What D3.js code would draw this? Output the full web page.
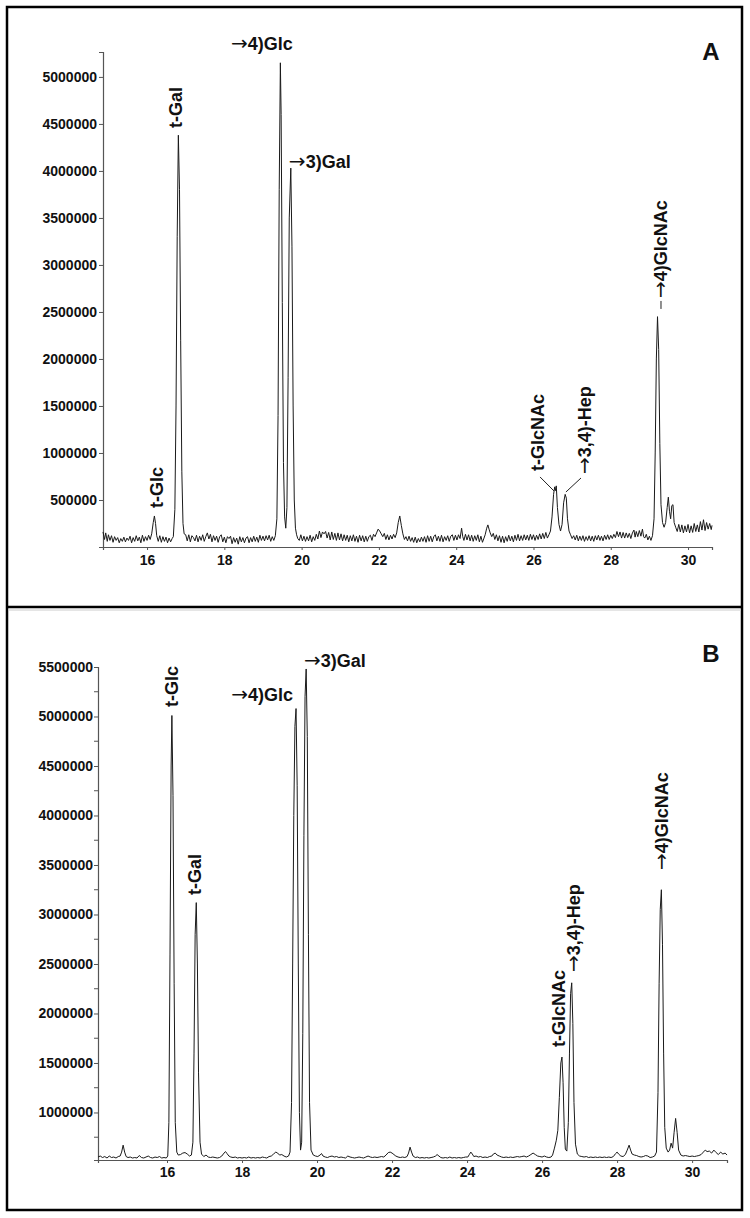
<html>
<head>
<meta http-equiv="Content-Type" content="text/html; charset=UTF-8" />
<title>GC-MS chromatograms A / B</title>
<script src="https://d3js.org/d3.v7.min.js"></script>
<style>
  body { margin: 0; background: #fff; }
  svg text { font-family: "Liberation Sans", Arial, sans-serif; font-weight: bold; fill: #111; }
  svg tspan.arrow { font-family: "DejaVu Sans", sans-serif; font-weight: normal; fill: #111; }
</style>
</head>
<body>
<div id="chart"></div>
<script type="text/javascript">
// retention time (min) / abundance (x1000 counts)
var traceA = [
  [14.86,160],[14.90,80],[14.93,150],[14.97,60],[15.00,130],[15.04,70],[15.08,120],[15.12,50],[15.16,110],[15.20,70],
  [15.24,100],[15.28,45],[15.32,90],[15.36,60],[15.40,105],[15.44,55],[15.48,95],[15.52,70],[15.56,115],[15.60,45],
  [15.64,100],[15.68,60],[15.72,120],[15.76,65],[15.80,105],[15.84,45],[15.88,125],[15.92,60],[15.96,110],[16.00,70],
  [16.04,125],[16.08,80],[16.12,140],[16.16,260],[16.19,330],[16.22,250],[16.25,120],[16.29,60],[16.33,120],[16.37,50],
  [16.41,110],[16.45,60],[16.49,105],[16.53,45],[16.57,95],[16.61,55],[16.65,90],[16.68,110],[16.72,400],[16.75,1500],
  [16.78,3300],[16.81,4380],[16.84,3800],[16.87,2200],[16.90,800],[16.93,250],[16.96,140],[17.00,130],[17.04,65],[17.08,130],
  [17.12,55],[17.16,120],[17.20,100],[17.24,65],[17.28,125],[17.32,55],[17.36,115],[17.40,70],[17.44,130],[17.48,60],
  [17.52,110],[17.56,150],[17.60,85],[17.64,135],[17.68,55],[17.72,120],[17.76,70],[17.80,115],[17.84,50],[17.88,110],
  [17.92,130],[17.96,55],[18.00,105],[18.04,45],[18.08,110],[18.12,90],[18.16,115],[18.20,35],[18.24,100],[18.28,50],
  [18.32,95],[18.36,30],[18.40,110],[18.44,55],[18.48,100],[18.52,45],[18.56,95],[18.60,110],[18.64,45],[18.68,100],
  [18.72,55],[18.76,115],[18.80,60],[18.84,105],[18.88,50],[18.92,125],[18.96,70],[19.00,115],[19.04,65],[19.08,120],
  [19.12,75],[19.16,125],[19.20,60],[19.24,110],[19.28,70],[19.32,120],[19.36,300],[19.39,1400],[19.42,3800],[19.45,5150],
  [19.47,4600],[19.50,2600],[19.53,900],[19.56,320],[19.59,200],[19.62,420],[19.65,1800],[19.68,3500],[19.72,4030],[19.75,3200],
  [19.78,1500],[19.81,500],[19.84,200],[19.87,130],[19.90,90],[19.94,70],[19.98,130],[20.02,65],[20.06,115],[20.10,60],
  [20.14,110],[20.18,65],[20.22,125],[20.26,55],[20.30,110],[20.34,70],[20.38,135],[20.42,85],[20.46,170],[20.50,100],
  [20.54,160],[20.58,140],[20.62,165],[20.66,95],[20.70,155],[20.74,75],[20.78,160],[20.82,80],[20.86,145],[20.90,70],
  [20.94,150],[20.98,75],[21.02,140],[21.06,65],[21.10,130],[21.14,70],[21.18,125],[21.22,55],[21.26,120],[21.30,65],
  [21.34,130],[21.38,60],[21.42,115],[21.46,50],[21.50,125],[21.54,65],[21.58,120],[21.62,55],[21.66,115],[21.70,60],
  [21.74,110],[21.78,125],[21.82,70],[21.86,135],[21.90,110],[21.94,150],[21.98,190],[22.02,170],[22.06,140],[22.10,110],
  [22.14,145],[22.18,80],[22.22,130],[22.26,75],[22.30,125],[22.34,85],[22.38,135],[22.42,100],[22.46,150],[22.50,260],
  [22.54,330],[22.58,230],[22.62,140],[22.66,80],[22.70,110],[22.74,65],[22.78,115],[22.82,60],[22.86,100],[22.90,50],
  [22.94,105],[22.98,45],[23.02,90],[23.06,55],[23.10,105],[23.14,60],[23.18,110],[23.22,50],[23.26,120],[23.30,60],
  [23.34,115],[23.38,55],[23.42,110],[23.46,130],[23.50,65],[23.54,115],[23.58,60],[23.62,125],[23.66,55],[23.70,110],
  [23.74,70],[23.78,120],[23.82,60],[23.86,115],[23.90,130],[23.94,70],[23.98,125],[24.02,75],[24.06,130],[24.10,90],
  [24.14,200],[24.17,110],[24.20,70],[24.24,135],[24.28,75],[24.32,130],[24.36,65],[24.40,125],[24.44,60],[24.48,120],
  [24.52,70],[24.56,130],[24.60,55],[24.64,115],[24.68,50],[24.72,95],[24.75,130],[24.79,200],[24.82,235],[24.85,190],
  [24.88,150],[24.92,110],[24.96,145],[25.00,80],[25.04,130],[25.08,65],[25.12,120],[25.16,50],[25.20,115],[25.24,45],
  [25.28,110],[25.32,60],[25.36,125],[25.40,65],[25.44,115],[25.48,55],[25.52,125],[25.56,70],[25.60,135],[25.64,65],
  [25.68,120],[25.72,70],[25.76,130],[25.80,75],[25.84,125],[25.88,70],[25.92,135],[25.96,80],[26.00,130],[26.04,70],
  [26.08,125],[26.12,80],[26.16,140],[26.20,85],[26.24,145],[26.28,90],[26.32,155],[26.36,95],[26.40,130],[26.44,170],
  [26.48,320],[26.52,560],[26.55,640],[26.57,600],[26.59,650],[26.62,420],[26.66,240],[26.70,170],[26.74,240],[26.78,470],
  [26.82,560],[26.85,520],[26.88,300],[26.92,170],[26.96,130],[27.00,90],[27.04,120],[27.08,75],[27.12,125],[27.16,65],
  [27.20,115],[27.24,70],[27.28,120],[27.32,60],[27.36,110],[27.40,70],[27.44,120],[27.48,65],[27.52,115],[27.56,60],
  [27.60,120],[27.64,75],[27.68,125],[27.72,70],[27.76,115],[27.80,65],[27.84,125],[27.88,80],[27.92,130],[27.96,80],
  [28.00,125],[28.04,90],[28.08,135],[28.12,100],[28.16,165],[28.20,110],[28.24,160],[28.28,95],[28.32,155],[28.36,95],
  [28.40,150],[28.44,100],[28.48,145],[28.52,90],[28.56,150],[28.60,180],[28.63,105],[28.66,165],[28.70,110],[28.74,175],
  [28.78,115],[28.82,190],[28.85,110],[28.88,95],[28.92,135],[28.96,75],[29.00,115],[29.04,70],[29.08,120],[29.12,300],
  [29.15,1000],[29.18,2000],[29.21,2450],[29.24,2100],[29.27,1100],[29.30,450],[29.34,260],[29.38,210],[29.42,260],[29.46,420],
  [29.49,530],[29.52,380],[29.55,300],[29.58,440],[29.61,450],[29.64,260],[29.68,210],[29.72,165],[29.76,240],[29.80,160],
  [29.84,235],[29.88,150],[29.92,225],[29.96,160],[30.00,240],[30.04,150],[30.08,225],[30.12,155],[30.16,250],[30.20,165],
  [30.24,235],[30.28,160],[30.32,270],[30.36,180],[30.40,290],[30.44,175],[30.48,260],[30.52,190],[30.56,250],[30.60,185],
  [30.62,230]
];

var traceB = [
  [14.16,550],[14.22,560],[14.28,545],[14.34,555],[14.40,540],[14.46,560],[14.52,545],[14.58,550],[14.64,540],[14.70,555],
  [14.75,560],[14.79,600],[14.83,670],[14.87,600],[14.91,555],[14.96,545],[15.02,550],[15.08,540],[15.14,545],[15.20,540],
  [15.26,565],[15.32,545],[15.38,540],[15.44,550],[15.50,560],[15.56,545],[15.62,540],[15.68,550],[15.74,545],[15.80,555],
  [15.86,540],[15.92,545],[15.98,540],[16.02,560],[16.05,900],[16.08,2600],[16.11,4500],[16.13,5010],[16.16,4200],[16.19,2300],
  [16.22,900],[16.26,600],[16.30,570],[16.36,575],[16.42,590],[16.48,595],[16.54,580],[16.60,560],[16.65,570],[16.69,700],
  [16.72,1600],[16.75,2800],[16.78,3120],[16.81,2500],[16.84,1400],[16.88,700],[16.92,580],[16.98,555],[17.04,570],[17.10,550],
  [17.16,545],[17.22,550],[17.28,545],[17.34,540],[17.40,545],[17.46,560],[17.52,590],[17.56,605],[17.60,585],[17.65,560],
  [17.70,550],[17.76,545],[17.82,550],[17.88,540],[17.94,545],[18.00,540],[18.06,545],[18.12,540],[18.18,550],[18.24,540],
  [18.30,545],[18.36,540],[18.42,545],[18.48,540],[18.54,550],[18.60,545],[18.66,540],[18.72,555],[18.78,560],[18.84,580],
  [18.90,600],[18.95,590],[19.00,570],[19.06,575],[19.12,560],[19.18,550],[19.24,560],[19.28,600],[19.32,1100],[19.35,2500],
  [19.38,4000],[19.41,4900],[19.44,5080],[19.47,4300],[19.50,2500],[19.53,1000],[19.56,620],[19.59,700],[19.62,1800],[19.65,3800],
  [19.68,5200],[19.71,5480],[19.74,4800],[19.77,2800],[19.80,1100],[19.84,620],[19.90,570],[19.96,560],[20.02,555],[20.08,570],
  [20.12,585],[20.16,560],[20.22,550],[20.28,545],[20.34,555],[20.40,560],[20.46,550],[20.52,555],[20.58,545],[20.64,550],
  [20.70,545],[20.76,540],[20.82,560],[20.88,550],[20.94,545],[21.00,540],[21.06,545],[21.12,550],[21.18,545],[21.24,540],
  [21.30,550],[21.36,560],[21.42,550],[21.48,545],[21.54,550],[21.60,545],[21.66,550],[21.72,555],[21.78,550],[21.84,570],
  [21.90,595],[21.95,600],[22.00,590],[22.05,575],[22.10,560],[22.16,550],[22.22,545],[22.28,550],[22.34,545],[22.40,555],
  [22.44,590],[22.48,650],[22.52,600],[22.56,560],[22.62,545],[22.68,550],[22.74,540],[22.80,545],[22.86,540],[22.92,545],
  [22.98,540],[23.04,545],[23.10,550],[23.16,560],[23.20,575],[23.25,560],[23.30,545],[23.36,540],[23.42,545],[23.48,540],
  [23.54,550],[23.60,540],[23.66,545],[23.72,540],[23.78,545],[23.84,540],[23.90,545],[23.96,550],[24.02,550],[24.06,575],
  [24.10,600],[24.14,580],[24.18,555],[24.24,560],[24.30,550],[24.36,555],[24.42,545],[24.48,550],[24.54,545],[24.60,555],
  [24.66,560],[24.70,580],[24.75,590],[24.80,570],[24.86,560],[24.92,550],[24.98,545],[25.04,550],[25.10,545],[25.16,550],
  [25.22,545],[25.28,550],[25.34,555],[25.40,550],[25.46,555],[25.52,560],[25.58,550],[25.64,560],[25.70,575],[25.76,590],
  [25.82,575],[25.88,560],[25.94,555],[26.00,550],[26.06,560],[26.12,550],[26.18,545],[26.24,550],[26.28,570],[26.33,640],
  [26.38,720],[26.42,820],[26.46,1150],[26.50,1500],[26.53,1560],[26.56,1300],[26.59,850],[26.62,630],[26.66,610],[26.70,900],
  [26.73,1600],[26.76,2200],[26.79,2310],[26.82,1900],[26.85,1100],[26.89,680],[26.94,580],[27.00,560],[27.06,555],[27.12,550],
  [27.18,555],[27.24,545],[27.30,550],[27.36,545],[27.42,550],[27.48,545],[27.54,550],[27.60,545],[27.66,550],[27.72,545],
  [27.78,550],[27.84,545],[27.90,555],[27.96,585],[28.00,600],[28.04,580],[28.10,560],[28.16,555],[28.22,575],[28.27,620],
  [28.32,670],[28.36,620],[28.40,580],[28.46,570],[28.52,565],[28.58,555],[28.64,550],[28.70,555],[28.76,565],[28.82,560],
  [28.88,545],[28.94,550],[29.00,560],[29.05,600],[29.09,1200],[29.12,2300],[29.15,3050],[29.18,3250],[29.21,2700],[29.24,1600],
  [29.27,850],[29.31,640],[29.36,600],[29.40,620],[29.44,690],[29.48,640],[29.52,800],[29.56,940],[29.60,800],[29.64,620],
  [29.70,570],[29.76,560],[29.82,565],[29.88,560],[29.94,555],[30.00,560],[30.06,555],[30.12,560],[30.18,565],[30.24,575],
  [30.30,600],[30.35,620],[30.40,605],[30.46,610],[30.52,590],[30.58,620],[30.64,595],[30.70,575],[30.76,600],[30.82,580],
  [30.88,590],[30.93,570]
];

var timeTicks = [16, 18, 20, 22, 24, 26, 28, 30];
var abundTicksA = [500000, 1000000, 1500000, 2000000, 2500000, 3000000, 3500000, 4000000, 4500000, 5000000];
var abundTicksB = [1000000, 1500000, 2000000, 2500000, 3000000, 3500000, 4000000, 4500000, 5000000, 5500000];
var minorTicksB = [750000, 1250000, 1750000, 2250000, 2750000, 3250000, 3750000, 4250000, 4750000, 5250000];

// peak labels: rt / abundance where the text starts, rotated or not, optional leader line
var labelsA = [
  { text: "t-Glc",      t: 16.26, v: 415000,  rot: true },
  { text: "t-Gal",      t: 16.75, v: 4457000, rot: true },
  { text: "\u21924)Glc",  t: 18.17, v: 5287000, rot: false },
  { text: "\u21923)Gal",  t: 19.67, v: 4032000, rot: false },
  { text: "t-GlcNAc",   t: 26.12, v: 809000,  rot: true, lead: [26.17, 745000, 26.53, 596000] },
  { text: "\u21923,4)-Hep", t: 27.33, v: 777000, rot: true, lead: [27.23, 734000, 26.84, 585000] },
  { text: "\u21924)GlcNAc", t: 29.30, v: 2649000, rot: true, lead: [29.30, 2617000, 29.30, 2532000] }
];
var labelsB = [
  { text: "t-Glc",      t: 16.13, v: 5096000, rot: true },
  { text: "t-Gal",      t: 16.75, v: 3197000, rot: true },
  { text: "\u21924)Glc",  t: 17.71, v: 5156000, rot: false },
  { text: "\u21923)Gal",  t: 19.65, v: 5500000, rot: false },
  { text: "t-GlcNAc",   t: 26.43, v: 1661000, rot: true },
  { text: "\u21923,4)-Hep", t: 26.83, v: 2419000, rot: true },
  { text: "\u21924)GlcNAc", t: 29.20, v: 3449000, rot: true }
];

var svg = d3.select("#chart").append("svg")
  .attr("width", 750)
  .attr("height", 1218);

// panel frames
svg.append("rect").attr("x", 7).attr("y", 7).attr("width", 735).attr("height", 1203)
  .attr("fill", "none").attr("stroke", "#000").attr("stroke-width", 2.5);
svg.append("line").attr("x1", 7).attr("x2", 742).attr("y1", 607).attr("y2", 607)
  .attr("stroke", "#000").attr("stroke-width", 2.5);
svg.append("line").attr("x1", 8).attr("x2", 741).attr("y1", 610).attr("y2", 610)
  .attr("stroke", "#ccc").attr("stroke-width", 1);

function panel(cfg) {
  var x = d3.scaleLinear().domain(cfg.xDomain).range(cfg.xRange);
  var y = d3.scaleLinear().domain(cfg.yDomain).range(cfg.yRange);
  var g = svg.append("g");

  var yAxis = d3.axisLeft(y).tickValues(cfg.yTicks).tickSize(4).tickPadding(cfg.yPad)
    .tickFormat(d3.format("d"));
  var gy = g.append("g").attr("transform", "translate(" + cfg.xRange[0] + ",0)").call(yAxis);
  if (cfg.minor) {
    gy.selectAll(".minor").data(cfg.minor).enter().append("line")
      .attr("x1", -4).attr("x2", 0).attr("y1", y).attr("y2", y)
      .attr("stroke", "#555");
  }
  var xAxis = d3.axisBottom(x).tickValues(timeTicks).tickSize(3).tickPadding(cfg.xPad);
  var gx = g.append("g").attr("transform", "translate(0," + cfg.yRange[0] + ")").call(xAxis);

  [gx, gy].forEach(function(a) {
    a.select(".domain").attr("stroke", "#555").attr("stroke-width", 1.2);
    a.selectAll(".tick line").attr("stroke", "#555");
    a.selectAll(".tick text").style("font-size", "14px").attr("fill", "#111");
  });

  var line = d3.line()
    .x(function(d) { return x(d[0]); })
    .y(function(d) { return y(d[1] * 1000); });
  g.append("path").datum(cfg.trace)
    .attr("fill", "none").attr("stroke", "#1a1a1a").attr("stroke-width", 1)
    .attr("stroke-linejoin", "round")
    .attr("d", line);

  cfg.labels.forEach(function(l) {
    var px = x(l.t), py = y(l.v);
    var t = g.append("text").style("font-size", "18px");
    // the arrow glyph comes from DejaVu, the rest stays in the Arial-like face
    if (l.text.charAt(0) === "\u2192") {
      t.append("tspan").attr("class", "arrow").style("font-size", "20px").text("\u2192");
      t.append("tspan").text(l.text.slice(1));
    } else {
      t.text(l.text);
    }
    if (l.rot) {
      t.attr("transform", "translate(" + px + "," + py + ") rotate(-90)").attr("dy", "0.35em");
    } else {
      t.attr("x", px).attr("y", py);
    }
    if (l.lead) {
      g.append("line")
        .attr("x1", x(l.lead[0])).attr("y1", y(l.lead[1]))
        .attr("x2", x(l.lead[2])).attr("y2", y(l.lead[3]))
        .attr("stroke", "#222").attr("stroke-width", 1);
    }
  });

  g.append("text").text(cfg.letter)
    .attr("x", 711).attr("y", cfg.letterY)
    .attr("text-anchor", "middle").style("font-size", "24px");
}

panel({
  trace: traceA, labels: labelsA, letter: "A", letterY: 60,
  xDomain: [14.86, 30.62], xRange: [103, 712],
  yDomain: [0, 5265000], yRange: [547, 52],
  yTicks: abundTicksA, yPad: 2, xPad: 5
});
panel({
  trace: traceB, labels: labelsB, letter: "B", letterY: 662, minor: minorTicksB,
  xDomain: [14.16, 30.93], xRange: [98, 727],
  yDomain: [520000, 5500000], yRange: [1160, 667],
  yTicks: abundTicksB, yPad: 1, xPad: 4
});
</script>
</body>
</html>
